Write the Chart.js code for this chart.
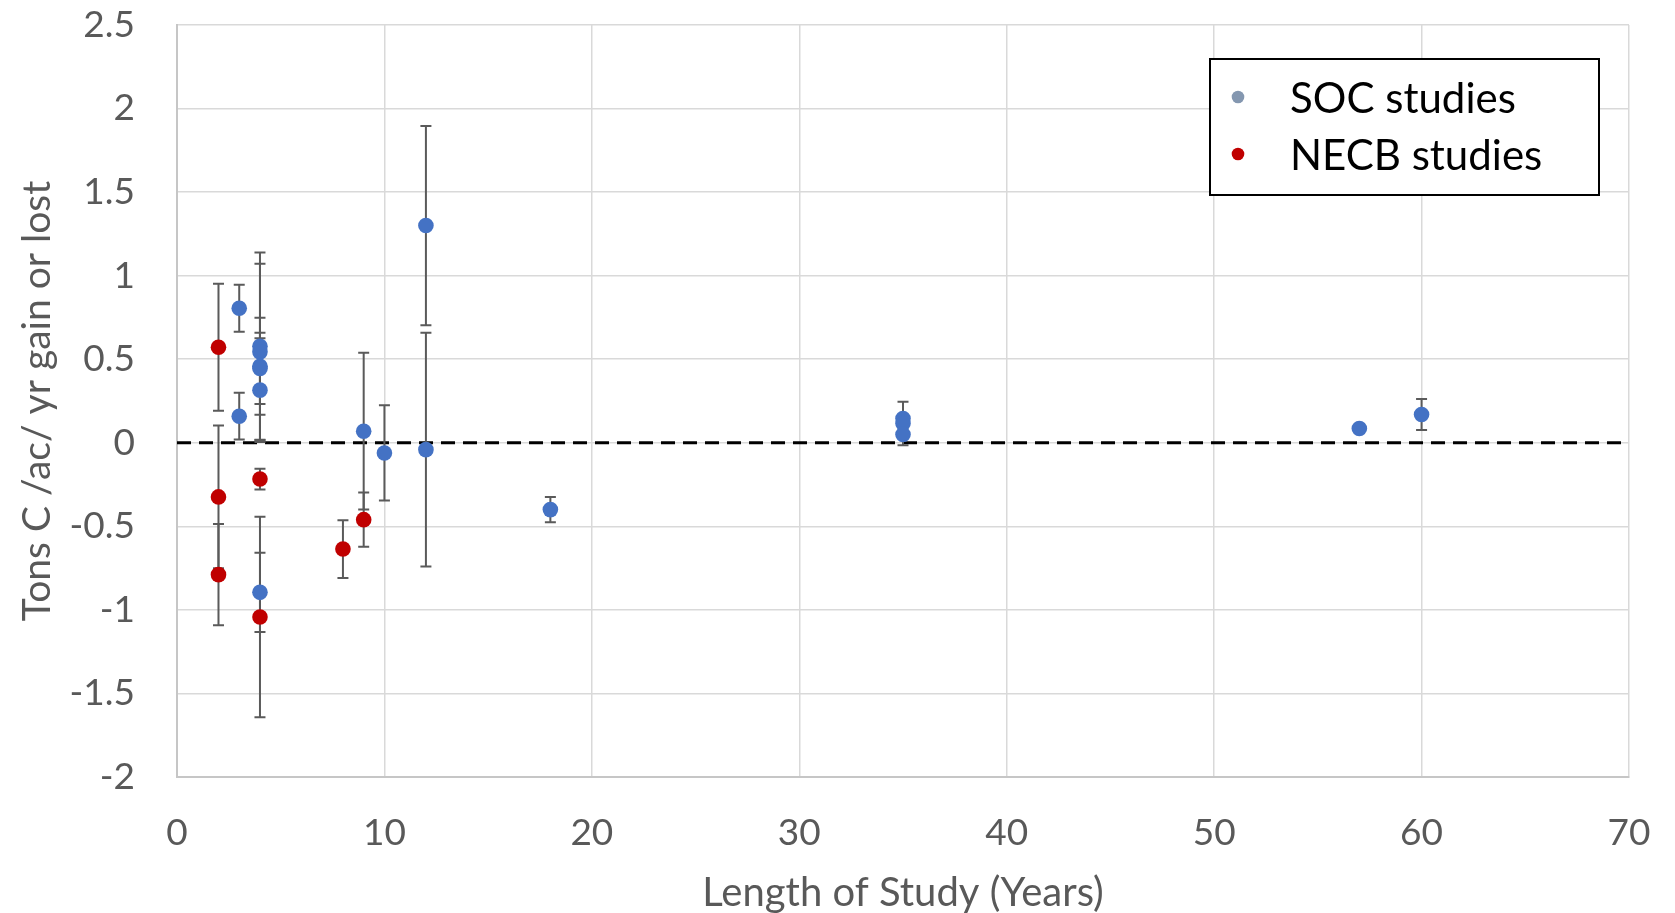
<!DOCTYPE html>
<html>
<head>
<meta charset="utf-8">
<script src="https://cdn.jsdelivr.net/npm/chart.js@4.4.0/dist/chart.umd.min.js"></script>
<style>
    html, body { margin: 0; padding: 0; background: #ffffff; }
    #wrap { width: 1675px; height: 913px; }
</style>
</head>
<body>
<div id="wrap"><canvas id="graficoCarbono"></canvas></div>
<script>
// axis ticks
const xTicks = [0, 10, 20, 30, 40, 50, 60, 70];
const yTicks = [-2, -1.5, -1, -0.5, 0, 0.5, 1, 1.5, 2, 2.5];

// SOC studies (blue)
const socYears = [3, 3, 4, 4, 4, 4, 4, 4, 9, 10, 12, 12, 18, 35, 35, 35, 57, 60];
const socValues = [0.805, 0.159, 0.578, 0.544, 0.458, 0.445, 0.315, -0.895, 0.069, -0.061, 1.30, -0.041, -0.40, 0.145, 0.115, 0.05, 0.085, 0.169];
const socErrors = [0.14, 0.14, 0.56, 0.527, 0.29, 0.213, 0.31, 0.237, 0.469, 0.285, 0.596, 0.70, 0.076, 0, 0.13, 0, 0, 0.093];

// NECB studies (red)
const necbYears = [2, 2, 2, 4, 4, 8, 9];
const necbValues = [0.572, -0.324, -0.789, -0.217, -1.043, -0.636, -0.46];
const necbErrors = [0.38, 0.427, 0.303, 0.062, 0.60, 0.173, 0.162];

// dashed reference line
const zeroLineX = [0, 70];
const zeroLineY = [0, 0];

function toPoints(xs, ys) {
    return xs.map(function (x, i) { return { x: x, y: ys[i] }; });
}

const errorBarsPlugin = {
    id: 'errorBars',
    afterDatasetDraw: function (chart, args) {
        const ds = chart.data.datasets[args.index];
        if (!ds.isZeroLine) return;
        const ctx = chart.ctx;
        const xs = chart.scales.x;
        const ys = chart.scales.y;
        ctx.save();
        ctx.strokeStyle = '#5a5a5a';
        ctx.lineWidth = 2;
        chart.data.datasets.forEach(function (d) {
            if (!d.errors) return;
            d.data.forEach(function (p, i) {
                const e = d.errors[i];
                if (!e) return;
                const px = xs.getPixelForValue(p.x);
                const top = ys.getPixelForValue(p.y + e);
                const bot = ys.getPixelForValue(p.y - e);
                ctx.beginPath();
                ctx.moveTo(px, top);
                ctx.lineTo(px, bot);
                ctx.moveTo(px - 5.5, top);
                ctx.lineTo(px + 5.5, top);
                ctx.moveTo(px - 5.5, bot);
                ctx.lineTo(px + 5.5, bot);
                ctx.stroke();
            });
        });
        ctx.restore();
    }
};

const boxLegendPlugin = {
    id: 'boxLegend',
    afterDraw: function (chart) {
        const ctx = chart.ctx;
        const area = chart.chartArea;
        const w = 389, h = 136;
        const left = area.right - 30 - w;
        const top = area.top + 34;
        ctx.save();
        ctx.fillStyle = '#ffffff';
        ctx.fillRect(left, top, w, h);
        ctx.strokeStyle = '#000000';
        ctx.lineWidth = 2;
        ctx.strokeRect(left, top, w, h);
        const items = [
            { text: chart.data.datasets[0].label, color: '#8497b0', y: top + 38 },
            { text: chart.data.datasets[1].label, color: '#c00000', y: top + 95 }
        ];
        ctx.font = '42px Lato';
        ctx.textBaseline = 'middle';
        ctx.textAlign = 'left';
        items.forEach(function (it) {
            ctx.fillStyle = it.color;
            ctx.beginPath();
            ctx.arc(left + 28, it.y, 6.3, 0, Math.PI * 2);
            ctx.fill();
            ctx.fillStyle = '#000000';
            ctx.fillText(it.text, left + 80, it.y + 2);
        });
        ctx.restore();
    }
};

window.onload = function () {
    const ctx = document.getElementById('graficoCarbono').getContext('2d');
    const grafico = new Chart(ctx, {
        type: 'scatter',
        data: {
            datasets: [{
                label: 'SOC studies',
                data: toPoints(socYears, socValues),
                errors: socErrors,
                backgroundColor: '#4472c4',
                borderWidth: 0,
                pointRadius: 7.8,
                pointHoverRadius: 7.8
            },
            {
                label: 'NECB studies',
                data: toPoints(necbYears, necbValues),
                errors: necbErrors,
                backgroundColor: '#c00000',
                borderWidth: 0,
                pointRadius: 7.8,
                pointHoverRadius: 7.8
            },
            {
                label: 'zero',
                isZeroLine: true,
                data: toPoints(zeroLineX, zeroLineY),
                showLine: true,
                borderColor: '#000000',
                borderWidth: 3,
                borderDash: [14, 8],
                pointRadius: 0,
                pointHoverRadius: 0
            }]
        },
        options: {
            responsive: true,
            maintainAspectRatio: false,
            animation: false,
            events: [],
            layout: {
                padding: { top: 25, right: 46, bottom: 0, left: 0 }
            },
            scales: {
                x: {
                    type: 'linear',
                    min: 0,
                    max: 70,
                    afterBuildTicks: function (scale) {
                        scale.ticks = xTicks.map(function (v) { return { value: v }; });
                    },
                    afterFit: function (scale) {
                        scale.height = 136;
                        scale.paddingLeft = 0;
                        scale.paddingRight = 0;
                    },
                    grid: { color: '#d9d9d9', lineWidth: 1.5, drawTicks: false },
                    border: { color: '#c6c6c6', width: 2 },
                    ticks: {
                        color: '#595959',
                        padding: 34,
                        font: { family: 'Lato', size: 37 },
                        callback: function (value) { return String(value); }
                    },
                    title: {
                        display: true,
                        text: 'Length of Study (Years)',
                        color: '#595959',
                        padding: { top: 0, bottom: 0 },
                        font: { family: 'Lato', size: 40, lineHeight: 1.0 }
                    }
                },
                y: {
                    type: 'linear',
                    min: -2,
                    max: 2.5,
                    afterBuildTicks: function (scale) {
                        scale.ticks = yTicks.map(function (v) { return { value: v }; });
                    },
                    afterFit: function (scale) {
                        scale.width = 177;
                        scale.paddingTop = 0;
                        scale.paddingBottom = 0;
                    },
                    grid: { color: '#d9d9d9', lineWidth: 1.5, drawTicks: false },
                    border: { color: '#c6c6c6', width: 2 },
                    ticks: {
                        color: '#595959',
                        padding: 42,
                        font: { family: 'Lato', size: 37 },
                        callback: function (value) { return String(value); }
                    },
                    title: {
                        display: true,
                        text: 'Tons C /ac/ yr gain or lost',
                        color: '#595959',
                        padding: { top: 18, bottom: 0 },
                        font: { family: 'Lato', size: 39, lineHeight: 1.0 }
                    }
                }
            },
            plugins: {
                legend: { display: false },
                tooltip: { enabled: false }
            }
        },
        plugins: [errorBarsPlugin, boxLegendPlugin]
    });
};
</script>
</body>
</html>
